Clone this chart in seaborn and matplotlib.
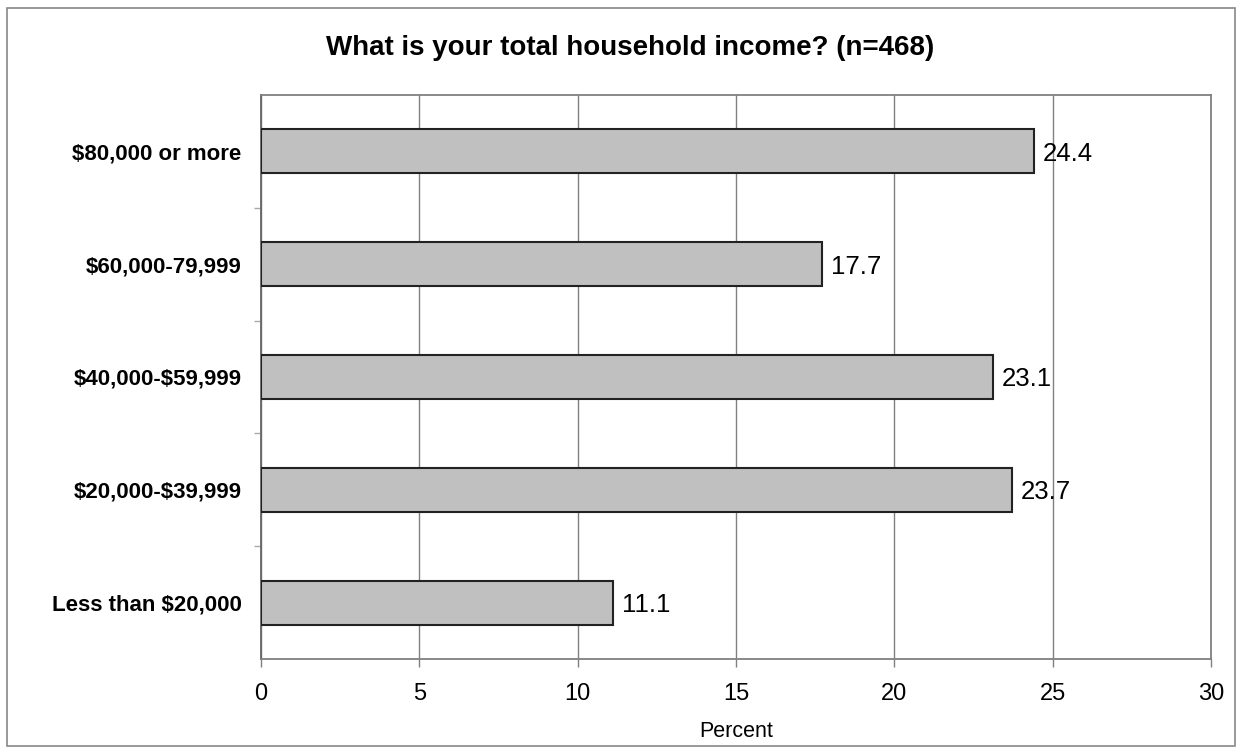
import matplotlib
matplotlib.use("Agg")
import matplotlib.pyplot as plt
import seaborn as sns
import pandas as pd
from matplotlib.patches import Rectangle

categories = ["$80,000 or more", "$60,000-79,999", "$40,000-$59,999",
              "$20,000-$39,999", "Less than $20,000"]
values = [24.4, 17.7, 23.1, 23.7, 11.1]
x_ticks = [0, 5, 10, 15, 20, 25, 30]
title = "What is your total household income? (n=468)"
x_label = "Percent"

sns.set_theme(style="white")
plt.rcParams['font.family'] = ['Liberation Sans', 'DejaVu Sans']
plt.rcParams['text.parse_math'] = False
plt.rcParams['text.color'] = 'black'
plt.rcParams['xtick.color'] = 'black'
plt.rcParams['ytick.color'] = 'black'
plt.rcParams['axes.labelcolor'] = 'black'

df = pd.DataFrame({"cat": categories, "val": values})

fig = plt.figure(figsize=(12.36, 7.51), dpi=100)
ax = fig.add_axes([261/1236, 1-659/751, (1211-261)/1236, (659-95)/751])

sns.barplot(data=df, x="val", y="cat", orient="h", ax=ax, color="#c0c0c0",
            saturation=1, width=0.39, edgecolor="#222222", linewidth=1.5, zorder=3)

ax.set_xlim(0, 30)
ax.set_ylim(len(categories) - 0.5, -0.5)
ax.set_xticks(x_ticks)
ax.set_xticklabels([str(t) for t in x_ticks], fontsize=17)
ax.set_yticks(range(len(categories)))
ax.set_yticklabels(categories, fontsize=16, fontweight="bold")
ax.set_yticks([i + 0.5 for i in range(len(categories) - 1)], minor=True)
ax.tick_params(axis="y", which="major", length=0, pad=14)
ax.tick_params(axis="y", which="minor", length=5, color="#aaaaaa", width=1, left=True)
ax.tick_params(axis="x", which="major", length=6, color="#808080", width=1, bottom=True, pad=11)
ax.xaxis.grid(True, color="#808080", linewidth=1, zorder=0)
ax.set_axisbelow(True)
for s in ax.spines.values():
    s.set_color("#808080")
    s.set_linewidth(1.3)
ax.spines["left"].set_color("#666666")

ax.set_xlabel(x_label, fontsize=15.5, labelpad=12)
ax.set_ylabel("")

for i, v in enumerate(values):
    ax.annotate(f"{v:.1f}", xy=(v, i), xytext=(6.5, 0), textcoords="offset points",
                va="center_baseline", ha="left", fontsize=18.5, color="black", zorder=5)

fig.text(630/1236, 1-48/751, title, ha="center", va="center",
         fontsize=20, fontweight="bold")

fig.patches.append(Rectangle((7/1236, 1-746/751), (1235-7)/1236, (746-8)/751,
                             transform=fig.transFigure, fill=False,
                             edgecolor="#888888", linewidth=1.2))

fig.savefig("out.png", dpi=100, facecolor="white")
